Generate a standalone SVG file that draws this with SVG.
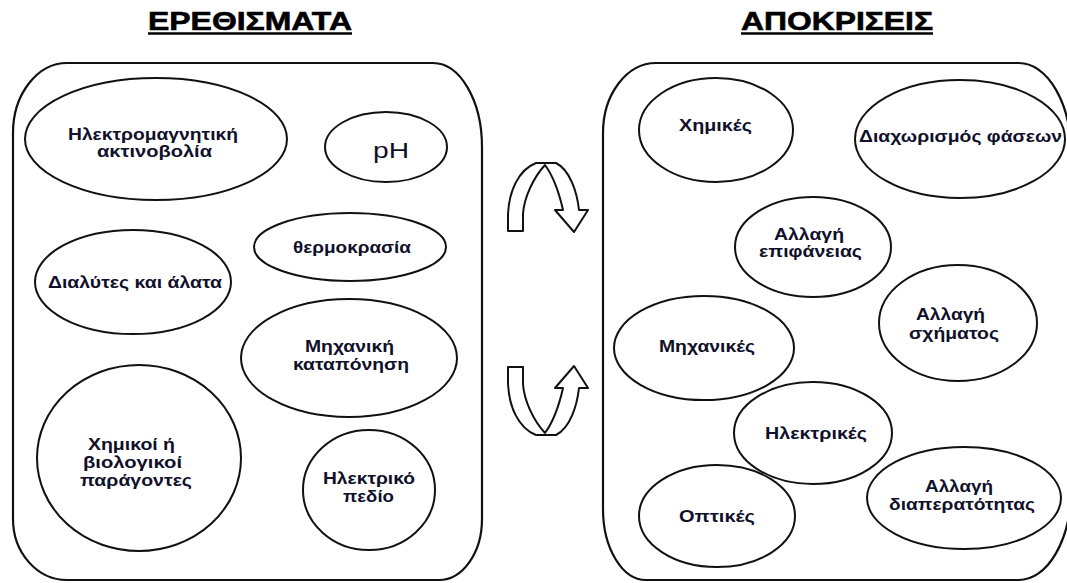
<svg xmlns="http://www.w3.org/2000/svg" xmlns:xlink="http://www.w3.org/1999/xlink" width="1067" height="583" viewBox="0 0 1067 583">
<style>
.box{fill:none;stroke:#111;stroke-width:2.2}
.el{fill:none;stroke:#111;stroke-width:2}
.t{font-family:"Liberation Sans",Arial,sans-serif;font-weight:bold;font-size:16.5px;fill:#10102a}
.ttl{font-family:"Liberation Sans",Arial,sans-serif;font-weight:bold;font-size:26px;fill:#000;stroke:#000;stroke-width:0.6}
.ph{font-family:"Liberation Sans",Arial,sans-serif;font-size:22px;fill:#10102a}
.arr{fill:#fff;stroke:#111;stroke-width:2;stroke-linejoin:round}
</style>
<defs>
<path id="uarrow" d="M 508 231 L 508 214 C 509 192, 518 170, 536 163 L 556 163 C 570 170, 577 192, 579 210 L 588 210 L 574 232 L 555 210 L 563 210 C 559 192, 553 176, 545 165 C 533 178, 524 198, 523 214 L 523 231 Z"/>
</defs>
<rect width="1067" height="583" fill="#fff"/>

<g id="title-left">
<text class="ttl" x="148" y="30" textLength="204" lengthAdjust="spacingAndGlyphs">ΕΡΕΘΙΣΜΑΤΑ</text>
<line x1="148" y1="33.5" x2="352" y2="33.5" stroke="#000" stroke-width="2.5"/>
</g>
<g id="title-right">
<text class="ttl" x="741" y="30" textLength="192" lengthAdjust="spacingAndGlyphs">ΑΠΟΚΡΙΣΕΙΣ</text>
<line x1="741" y1="33.5" x2="933" y2="33.5" stroke="#000" stroke-width="2.5"/>
</g>

<g id="box-stimuli">
<path class="box" d="M 67 63 L 433 63 A 49 84 0 0 1 482 147 L 482 519 A 43 61 0 0 1 439 580 L 67 580 A 54 61 0 0 1 13 519 L 13 133 A 54 70 0 0 1 67 63 Z"/>
</g>
<g id="box-responses">
<path class="box" d="M 656 63 L 1019 63 A 52 90 0 0 1 1071 153 L 1071 490 A 52 90 0 0 1 1019 580 L 646 580 A 43 71 0 0 1 603 509 L 603 133 A 53 70 0 0 1 656 63 Z"/>
</g>

<g id="n-em">
<ellipse class="el" cx="156" cy="139" rx="131" ry="61"/>
<text class="t" x="68" y="140" textLength="170" lengthAdjust="spacingAndGlyphs">Ηλεκτρομαγνητική</text>
<text class="t" x="97" y="157" textLength="115" lengthAdjust="spacingAndGlyphs">ακτινοβολία</text>
</g>
<g id="n-ph">
<ellipse class="el" cx="386" cy="147" rx="61" ry="35"/>
<text class="ph" x="373" y="158" textLength="36" lengthAdjust="spacingAndGlyphs">pH</text>
</g>
<g id="n-thermo">
<ellipse class="el" cx="350" cy="247" rx="96" ry="34"/>
<text class="t" x="293" y="253" textLength="118" lengthAdjust="spacingAndGlyphs">θερμοκρασία</text>
</g>
<g id="n-solv">
<ellipse class="el" cx="133" cy="282" rx="98" ry="52"/>
<text class="t" x="48" y="288" textLength="174" lengthAdjust="spacingAndGlyphs">Διαλύτες και άλατα</text>
</g>
<g id="n-mech">
<ellipse class="el" cx="349" cy="358" rx="108" ry="59"/>
<text class="t" x="305" y="352" textLength="89" lengthAdjust="spacingAndGlyphs">Μηχανική</text>
<text class="t" x="293" y="370" textLength="116" lengthAdjust="spacingAndGlyphs">καταπόνηση</text>
</g>
<g id="n-chembio">
<ellipse class="el" cx="139" cy="458" rx="102" ry="93"/>
<text class="t" x="88" y="450" textLength="87" lengthAdjust="spacingAndGlyphs">Χημικοί ή</text>
<text class="t" x="83" y="468" textLength="99" lengthAdjust="spacingAndGlyphs">βιολογικοί</text>
<text class="t" x="80" y="486" textLength="112" lengthAdjust="spacingAndGlyphs">παράγοντες</text>
</g>
<g id="n-efield">
<ellipse class="el" cx="369" cy="490" rx="66" ry="60"/>
<text class="t" x="323" y="484" textLength="92" lengthAdjust="spacingAndGlyphs">Ηλεκτρικό</text>
<text class="t" x="343" y="502" textLength="51" lengthAdjust="spacingAndGlyphs">πεδίο</text>
</g>

<g id="n-chem">
<ellipse class="el" cx="716" cy="130" rx="77" ry="52"/>
<text class="t" x="679" y="131" textLength="73" lengthAdjust="spacingAndGlyphs">Χημικές</text>
</g>
<g id="n-phase">
<ellipse class="el" cx="960" cy="139" rx="105" ry="59"/>
<text class="t" x="859" y="142" textLength="203" lengthAdjust="spacingAndGlyphs">Διαχωρισμός φάσεων</text>
</g>
<g id="n-surface">
<ellipse class="el" cx="813" cy="247" rx="78" ry="50"/>
<text class="t" x="774" y="240" textLength="70" lengthAdjust="spacingAndGlyphs">Αλλαγή</text>
<text class="t" x="759" y="257" textLength="103" lengthAdjust="spacingAndGlyphs">επιφάνειας</text>
</g>
<g id="n-shape">
<ellipse class="el" cx="958" cy="323" rx="79" ry="58"/>
<text class="t" x="916" y="320" textLength="69" lengthAdjust="spacingAndGlyphs">Αλλαγή</text>
<text class="t" x="909" y="339" textLength="90" lengthAdjust="spacingAndGlyphs">σχήματος</text>
</g>
<g id="n-mechr">
<ellipse class="el" cx="704" cy="348" rx="90" ry="52"/>
<text class="t" x="659" y="352" textLength="96" lengthAdjust="spacingAndGlyphs">Μηχανικές</text>
</g>
<g id="n-elec">
<ellipse class="el" cx="813" cy="433" rx="79" ry="51"/>
<text class="t" x="765" y="439" textLength="102" lengthAdjust="spacingAndGlyphs">Ηλεκτρικές</text>
</g>
<g id="n-opt">
<ellipse class="el" cx="717" cy="516" rx="78" ry="51"/>
<text class="t" x="679" y="522" textLength="76" lengthAdjust="spacingAndGlyphs">Οπτικές</text>
</g>
<g id="n-perm">
<ellipse class="el" cx="964" cy="498" rx="97" ry="51"/>
<text class="t" x="925" y="492" textLength="68" lengthAdjust="spacingAndGlyphs">Αλλαγή</text>
<text class="t" x="889" y="510" textLength="146" lengthAdjust="spacingAndGlyphs">διαπερατότητας</text>
</g>

<g id="connectors">
<use xlink:href="#uarrow" href="#uarrow" class="arr"/>
<use xlink:href="#uarrow" href="#uarrow" class="arr" transform="matrix(1 0 0 -1 0 598)"/>
</g>
</svg>
